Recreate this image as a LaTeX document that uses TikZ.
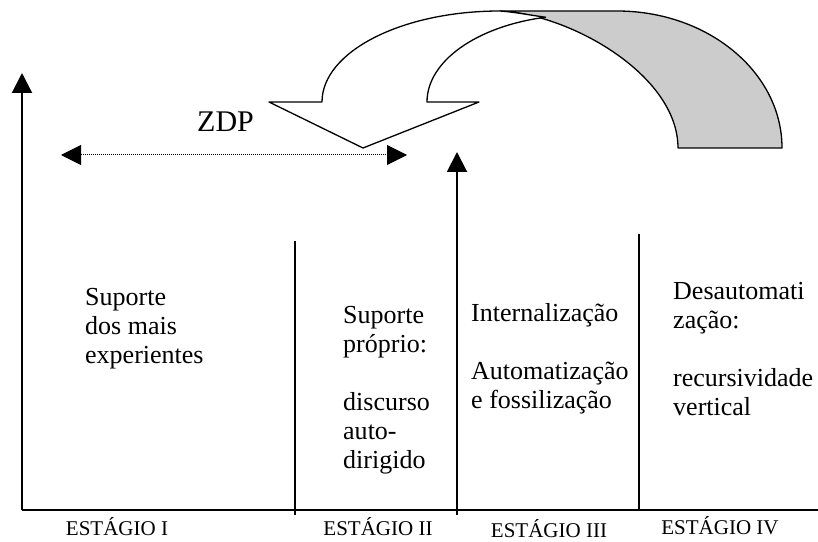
\documentclass[tikz,border=0pt]{standalone}
\usepackage{fontspec}
\setmainfont{Liberation Serif}
\usetikzlibrary{arrows.meta}

\tikzset{
	axis/.style={line width=2pt, -{Triangle[length=20pt, width=20pt]}},
	divider/.style={line width=1.5pt},
	bodytext/.style={anchor=base west, align=left, inner sep=0pt, font=\fontsize{26}{29}\selectfont},
	stagelabel/.style={anchor=base, inner sep=0pt, font=\fontsize{21}{25}\selectfont},
	bandline/.style={line width=1.3pt, line join=round}
}

\begin{document}
\begin{tikzpicture}[x=1pt, y=1pt]
\path[use as bounding box] (0,0) rectangle (818,541);

\coordinate (origin) at (22,31);
\coordinate (ytop) at (22,468);
\coordinate (xend) at (818,31);
\coordinate (divtwo) at (295,26);
\coordinate (divtwotop) at (295,300);
\coordinate (midfoot) at (457,26);
\coordinate (midtop) at (457,389);
\coordinate (divfour) at (639,31);
\coordinate (divfourtop) at (639,307);
\coordinate (zdpleft) at (61,386);
\coordinate (zdpright) at (407,386);

% axes and stage borders
\draw[axis] (origin) -- (ytop);
\draw[line width=2pt] (origin) -- (xend);
\draw[divider] (divtwo) -- (divtwotop);
\draw[axis] (midfoot) -- (midtop);
\draw[divider] (divfour) -- (divfourtop);

\draw[densely dotted, line width=1pt, {Triangle[length=20pt, width=20pt]}-{Triangle[length=20pt, width=20pt]}] (zdpleft) -- (zdpright);
\node[anchor=base west, inner sep=0pt, font=\fontsize{30}{34}\selectfont] (zdp) at (197,409) {ZDP};

% curved arrow
\draw[bandline, fill=black!20] (500,530) -- (617,530) arc[start angle=90, end angle=0, x radius=165, y radius=137] -- (678,393) .. controls (678,466) and (570,527) .. (500,530) -- cycle;
\draw[bandline, fill=white] (269,439) -- (363,393) -- (479,439) -- (427,439) arc[start angle=180, end angle=103, x radius=153, y radius=87] .. controls (529,526) and (514,529) .. (500,530) arc[start angle=90, end angle=180, x radius=178, y radius=91] -- cycle;

% texts, placed at the baseline of their last line
\node[bodytext] (textone) at (85,178) {Suporte\\dos mais\\experientes};
\node[bodytext] (texttwo) at (343,73) {Suporte\\próprio:\\[29pt]discurso\\auto-\\dirigido};
\node[bodytext] (textthree) at (471,133) {Internalização\\[29pt]Automatização\\e fossilização};
\node[bodytext] (textfour) at (673,126) {Desautomati\\zação:\\[29pt]recursividade\\vertical};

\foreach \x/\y/\n in {117/6/I, 378/6/II, 549/4/III, 720/7/IV}
	\node[stagelabel] (stage\n) at (\x,\y) {ESTÁGIO \n};

\end{tikzpicture}
\end{document}
